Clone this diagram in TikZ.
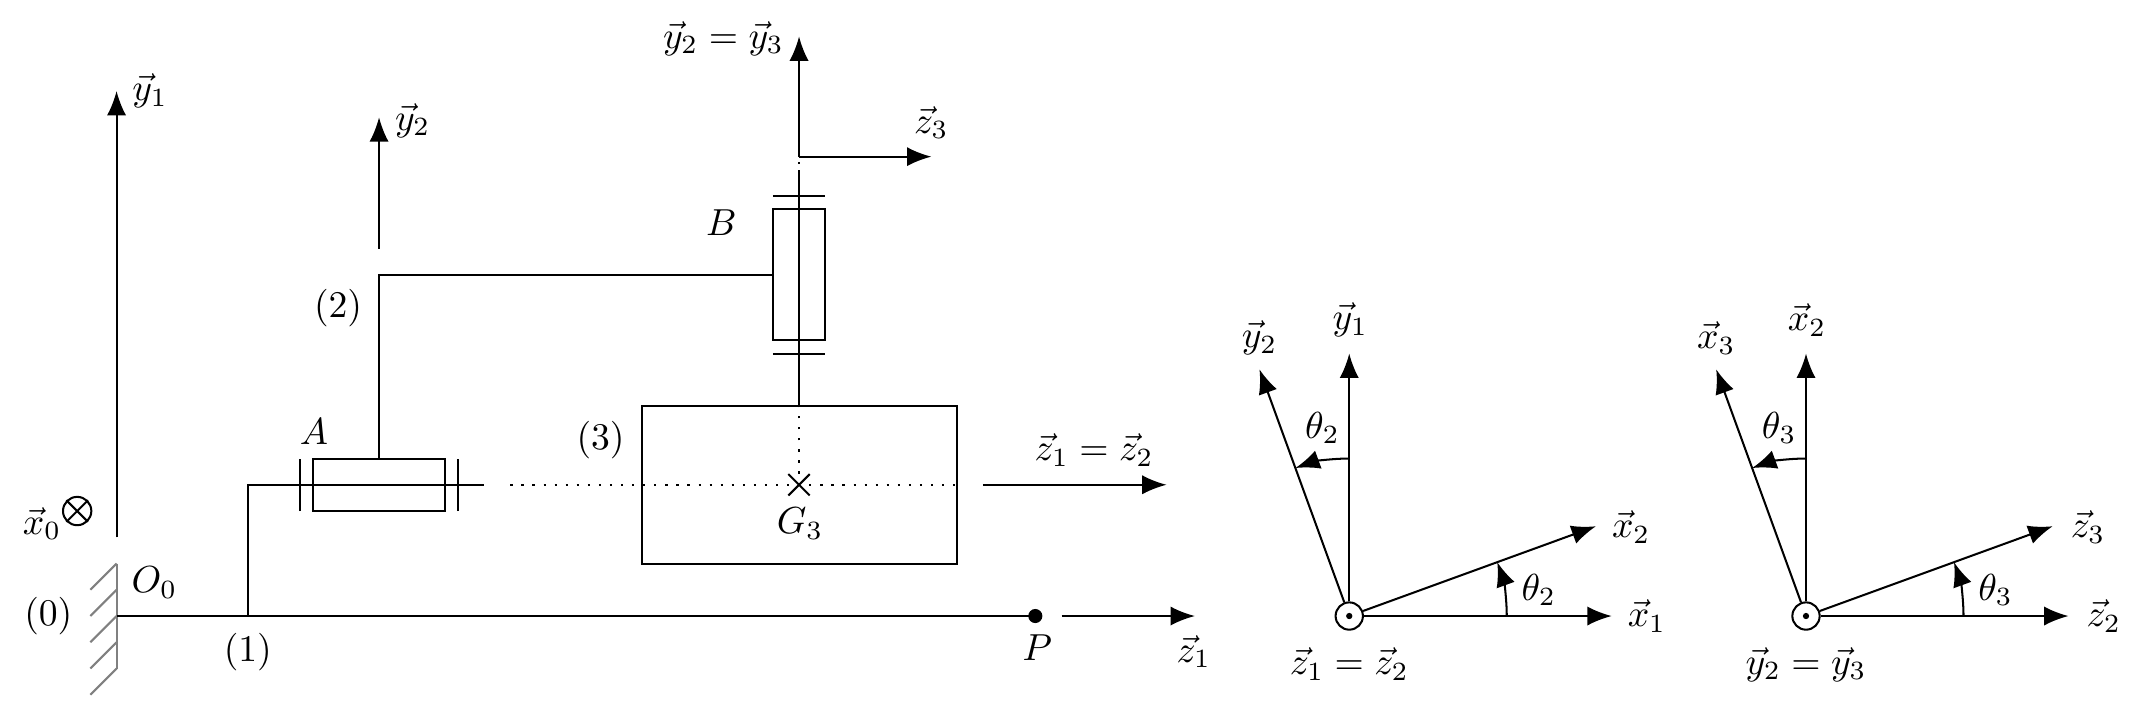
\documentclass[tikz,border=0pt]{standalone}
\usetikzlibrary{arrows.meta}
\usetikzlibrary{shapes.misc}
\tikzset{
  vecarrow/.style={line width=.55pt, -{Latex[length=6.6pt,width=5.2pt]}},
  solid line/.style={line width=.55pt},
  hatch/.style={gray, line width=.55pt},
  axis dots/.style={line width=.6pt, dotted, dash pattern=on .6pt off 2.4pt},
  roundmark/.style={draw, circle, line width=.55pt, minimum size=.26cm, inner sep=0},
  txt/.style={scale=1.02},
}
\begin{document}
\begin{tikzpicture}
\useasboundingbox (-1.11,-.857) rectangle (19.195,5.867);
\coordinate (O) at (0,0);
\coordinate (P) at (8.75,0);
\coordinate (G) at (6.5,1.25);
\coordinate (A) at (2.5,1.25);
\coordinate (B) at (6.5,3.25);
% frame (0)
\draw[hatch] (0,.5) -- (0,-.5);
\foreach \y in {.5,.25,0,-.25,-.5} {
 \draw[hatch] (0,\y) --++(-.25,-.25);
}
\draw[solid line] (O) -- (P);
\filldraw (P) circle (.06);
\draw[vecarrow] (0,.75) -- (0,5) node[txt, right, xshift=.6]{$\vec{y}_1$};
\node[roundmark, minimum size=.27cm] (xz) at (-.375,1) {};
\draw[solid line] (xz.north west) -- (xz.south east);
\draw[solid line] (xz.north east) -- (xz.south west);
\node[txt] (xzlab) at (-.71,.88) {$\vec{x}_0$};
\node[txt] (lab0) at (-.65,0) {$(0)$};
\node[txt] (labO) at (.36,.32) {$O_0$};
\node[txt] (lab1) at (1.25,-.34) {$(1)$};
\draw[vecarrow] (9,0) -- (10.27,0);
\node[txt] (labP) at (8.77,-.3) {$P$};
\node[txt] (labza) at (10.26,-.34) {$\vec{z}_1$};
% solid (1)
\draw[solid line] (1.25,0) |- (3.5,1.25);
\foreach \x in {1.75,3.25} {
 \draw[solid line] (\x,1) --++(0,.5);
}
% solid (2)
\node[draw, solid line, minimum width=1.25cm, minimum height=.5cm, inner sep=0] (boxA) at (A) {};
\node[draw, solid line, minimum width=.5cm, minimum height=1.25cm, inner sep=0] (boxB) at (B) {};
\draw[solid line] (boxA.north) |- (boxB.west);
\draw[vecarrow] (2.5,3.5) -- (2.5,4.75);
\node[txt] (labyb) at (2.82,4.72) {$\vec{y}_2$};
\node[txt] (labA) at (1.88,1.76) {$A$};
\node[txt] (lab2) at (2.11,2.93) {$(2)$};
\node[txt] (labB) at (5.76,3.75) {$B$};
% solid (3)
\node[draw, solid line, minimum width=3cm, minimum height=1.5cm, inner sep=0] (boxC) at (6.5,1.25) {};
\draw[axis dots] (3.75,1.25) -- (boxC.east);
\draw[axis dots] (G) -- (6.5,4.5);
\node[draw, cross out, solid line, minimum size=.184cm, inner sep=0] (crossG) at (G) {};
\draw[solid line] (boxC.north) -- (6.5,4.25);
\foreach \y in {2.5,4} {
 \draw[solid line] (6.25,\y) --++(.5,0);
}
\coordinate (Ot) at (6.5,4.375);
\draw[vecarrow] (Ot) -- (6.5,5.52);
\draw[vecarrow] (Ot) -- (7.76,4.375);
\node[txt] (labyc) at (5.78,5.5) {$\vec{y}_2=\vec{y}_3$};
\node[txt] (labzc) at (7.76,4.7) {$\vec{z}_3$};
\node[txt] (lab3) at (4.61,1.68) {$(3)$};
\node[txt] (labG) at (6.51,.88) {$G_3$};
\draw[vecarrow] (8.25,1.25) -- (10,1.25);
\node[txt] (labzb) at (9.31,1.58) {$\vec{z}_1=\vec{z}_2$};
% plane figures
\foreach \i/\cx/\ub/\ua/\vb/\va/\ang/\nor in {
 a/11.74/\vec{x}_1/\vec{x}_2/\vec{y}_1/\vec{y}_2/\theta_2/\vec{z}_1=\vec{z}_2,
 b/16.09/\vec{z}_2/\vec{z}_3/\vec{x}_2/\vec{x}_3/\theta_3/\vec{y}_2=\vec{y}_3} {
 \begin{scope}[shift={(\cx,0)}]
 \node[roundmark] (C\i) at (0,0) {};
 \fill (C\i.center) circle (.03);
 \draw[vecarrow] (C\i) -- (0:2.5);
 \draw[vecarrow] (C\i) -- (20:2.5);
 \draw[vecarrow] (C\i) -- (90:2.5);
 \draw[vecarrow] (C\i) -- (110:2.5);
 \draw[vecarrow] (0:1.5) arc (0:20:1.5);
 \draw[vecarrow] (90:1.5) arc (90:110:1.5);
 \node[txt] (ub\i) at (2.835,0) {$\ub$};
 \node[txt] (ua\i) at (2.685,.85) {$\ua$};
 \node[txt] (vb\i) at (.01,2.82) {$\vb$};
 \node[txt] (va\i) at (-.855,2.65) {$\va$};
 \node[txt] (tu\i) at (1.805,.25) {$\ang$};
 \node[txt] (tv\i) at (-.255,1.79) {$\ang$};
 \node[txt] (nr\i) at (0,-.46) {$\nor$};
 \end{scope}
}
\end{tikzpicture}
\end{document}
